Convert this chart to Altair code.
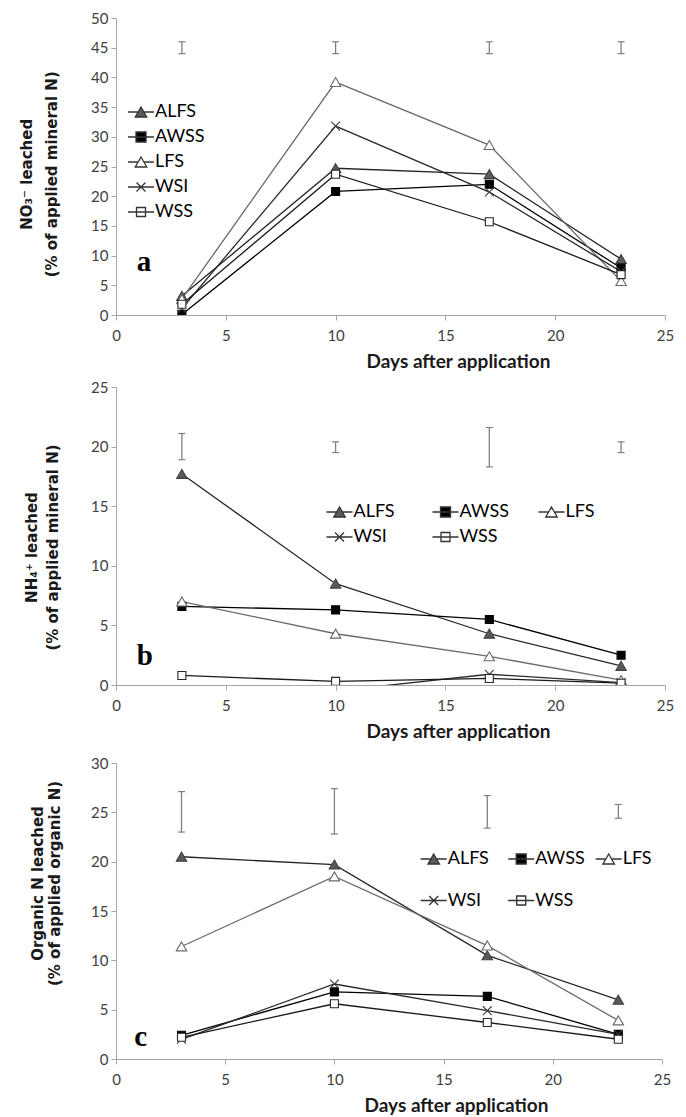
import altair as alt
import pandas as pd

DAYS = [3, 10, 17, 23]
SERIES = ["ALFS", "AWSS", "LFS", "WSI", "WSS"]

# Panel a: NO3- leached (% of applied mineral N)
NO3_ALFS = [3.2, 24.7, 23.7, 9.4]
NO3_AWSS = [0.1, 20.8, 22.0, 7.9]
NO3_LFS = [2.7, 39.2, 28.6, 5.7]
NO3_WSI = [1.1, 31.8, 20.7, 7.3]
NO3_WSS = [1.8, 23.7, 15.7, 6.8]
NO3_ERR_LOW = [44.0, 44.0, 44.0, 44.0]
NO3_ERR_HIGH = [46.0, 46.0, 46.0, 46.0]

# Panel b: NH4+ leached (% of applied mineral N)
NH4_ALFS = [17.7, 8.5, 4.3, 1.6]
NH4_AWSS = [6.6, 6.3, 5.5, 2.5]
NH4_LFS = [7.0, 4.3, 2.4, 0.4]
NH4_WSI = [-0.5, -0.5, 0.9, 0.2]
NH4_WSS = [0.8, 0.3, 0.55, 0.15]
NH4_ERR_LOW = [18.9, 19.5, 18.3, 19.5]
NH4_ERR_HIGH = [21.1, 20.4, 21.6, 20.4]

# Panel c: Organic N leached (% of applied organic N)
ORG_ALFS = [20.5, 19.7, 10.5, 6.0]
ORG_AWSS = [2.4, 6.8, 6.35, 2.5]
ORG_LFS = [11.4, 18.5, 11.5, 3.9]
ORG_WSI = [2.0, 7.6, 4.9, 2.5]
ORG_WSS = [2.2, 5.6, 3.7, 2.0]
ORG_ERR_LOW = [23.0, 22.8, 23.4, 24.4]
ORG_ERR_HIGH = [27.1, 27.4, 26.7, 25.8]

# styles
LINE_COLORS = ["#262626", "#000000", "#6a6a6a", "#2b2b2b", "#1a1a1a"]
MARKER_FILLS = ["#5a5a5a", "#000000", "#ffffff", "#ffffff", "#ffffff"]
MARKER_STROKES = ["#404040", "#000000", "#6a6a6a", "#404040", "#262626"]
MARKER_PATHS = [
    "M0,-1.15L1.3,1.1L-1.3,1.1Z",
    "M-1,-1H1V1H-1Z",
    "M0,-1.15L1.3,1.1L-1.3,1.1Z",
    "M-1.1,-1.1L1.1,1.1M-1.1,1.1L1.1,-1.1",
    "M-1,-1H1V1H-1Z",
]
LEGEND_PATHS = [
    "M-2.6,0H-0.575M0.575,0H2.6M0,-1L1.15,1L-1.15,1Z",
    "M-2.6,0H2.6M-1,-1H1V1H-1Z",
    "M-2.6,0H-0.575M0.575,0H2.6M0,-1L1.15,1L-1.15,1Z",
    "M-2.6,0H2.6M-0.9,-0.9L0.9,0.9M-0.9,0.9L0.9,-0.9",
    "M-2.6,0H2.6M-0.9,-0.9H0.9V0.9H-0.9Z",
]
LEGEND_FILLS = ["#5a5a5a", "#000000", "#ffffff", "#ffffff", "#ffffff"]
AXIS_GRAY = "#a6a6a6"
ERR_GRAY = "#808080"


def long_df(lists):
    rows = []
    for name, vals in zip(SERIES, lists):
        for d, v in zip(DAYS, vals):
            rows.append({"series": name, "day": d, "value": v})
    return pd.DataFrame(rows)


def err_df(lo, hi):
    return pd.DataFrame({"day": DAYS, "lo": lo, "hi": hi})


def panel(lists, lo, hi, ymax, ytitle, ytx, yty, ylh, xtx, letter, lx, ly,
          leg_x, leg_y, leg_cols, leg_rowpad, leg_colpad, width, height, top_gap=0):
    xscale = alt.Scale(domain=[0, 25], nice=False, zero=True)
    if top_gap:
        yscale = alt.Scale(domain=[0, ymax], nice=False, zero=True,
                           range=[height, top_gap])
    else:
        yscale = alt.Scale(domain=[0, ymax], nice=False, zero=True)
    xaxis = alt.Axis(
        values=[0, 5, 10, 15, 20, 25], tickCount=20, grid=False, domainColor=AXIS_GRAY,
        tickColor=AXIS_GRAY, tickSize=5, labelFont="Lato", labelFontSize=15,
        labelColor="#404040", labelPadding=8, labelFlush=False, labelOverlap=False,
        title="Days after application", titleFont="Lato", titleFontSize=19,
        titleFontWeight="bold", titleColor="#1a1a1a", titleX=xtx, titleY=46.5,
        titleBaseline="middle", titleAlign="center",
    )
    yaxis = alt.Axis(
        values=list(range(0, ymax + 1, 5)), tickCount=20, grid=False,
        domainColor=AXIS_GRAY, tickColor=AXIS_GRAY, tickSize=5, labelFont="Lato",
        labelFontSize=15, labelColor="#404040", labelPadding=3, labelOverlap=False,
        title=ytitle, titleFont="DejaVu Sans", titleFontSize=15,
        titleFontWeight="bold", titleColor="#1a1a1a", titleAngle=270,
        titleAlign="center", titleBaseline="middle", titleX=ytx,
        titleY=yty + top_gap, titleLineHeight=ylh,
    )

    def X(field="day"):
        return alt.X(f"{field}:Q", scale=xscale, axis=xaxis)

    def Y(field="value"):
        return alt.Y(f"{field}:Q", scale=yscale, axis=yaxis)

    data = long_df(lists)
    base = alt.Chart(data)
    edf = alt.Chart(err_df(lo, hi))

    err_rule = edf.mark_rule(color=ERR_GRAY, strokeWidth=1.3).encode(
        x=X(), y=Y("lo"), y2="hi:Q")
    cap_lo = edf.mark_tick(orient="horizontal", size=7, thickness=1.2,
                           color=ERR_GRAY, opacity=1).encode(x=X(), y=Y("lo"))
    cap_hi = edf.mark_tick(orient="horizontal", size=7, thickness=1.2,
                           color=ERR_GRAY, opacity=1).encode(x=X(), y=Y("hi"))

    lines = base.mark_line(strokeWidth=1.3, clip=True).encode(
        x=X(), y=Y(),
        color=alt.Color("series:N", scale=alt.Scale(domain=SERIES, range=LINE_COLORS),
                        legend=None),
    )
    points = base.mark_point(filled=True, opacity=1, size=64, strokeWidth=1.1,
                             clip=True).encode(
        x=X(), y=Y(),
        shape=alt.Shape("series:N", scale=alt.Scale(domain=SERIES, range=MARKER_PATHS),
                        legend=None),
        fill=alt.Fill("series:N", scale=alt.Scale(domain=SERIES, range=MARKER_FILLS),
                      legend=None),
        stroke=alt.Stroke("series:N", scale=alt.Scale(domain=SERIES, range=MARKER_STROKES),
                          legend=None),
    )
    legend = alt.Legend(
        title=None, orient="none", legendX=leg_x, legendY=leg_y + top_gap,
        columns=leg_cols, direction="horizontal" if leg_cols > 1 else "vertical",
        labelFont="Lato", labelFontSize=18, labelColor="#000000", labelOffset=5,
        symbolSize=100, symbolStrokeWidth=1.3, rowPadding=leg_rowpad,
        columnPadding=leg_colpad, gridAlign="all", padding=0,
    )
    leg = base.transform_filter("false").mark_point(
        filled=True, opacity=1, size=100, strokeWidth=1.3, stroke="#333333"
    ).encode(
        x=X(), y=Y(),
        shape=alt.Shape("series:N", scale=alt.Scale(domain=SERIES, range=LEGEND_PATHS),
                        legend=legend),
        color=alt.Color("series:N", scale=alt.Scale(domain=SERIES, range=LEGEND_FILLS),
                        legend=legend),
    )
    txt = alt.Chart(pd.DataFrame({"t": [letter]})).mark_text(
        font="Liberation Serif", fontSize=29, fontWeight="bold", align="left",
        baseline="alphabetic", color="#000000",
    ).encode(x=alt.datum(lx), y=alt.datum(ly), text="t:N")

    return alt.layer(err_rule, cap_lo, cap_hi, lines, points, leg, txt).resolve_scale(
        color="independent", shape="independent"
    ).properties(width=width, height=height)


pa = panel([NO3_ALFS, NO3_AWSS, NO3_LFS, NO3_WSI, NO3_WSS], NO3_ERR_LOW, NO3_ERR_HIGH,
           50, ["NO\u2083\u207b leached", "(% of applied mineral N)"], -90, 155.8, 25,
           342, "a", 0.95, 7.4, 16, 85, 1, 7, 10, 549, 297)
pb = panel([NH4_ALFS, NH4_AWSS, NH4_LFS, NH4_WSI, NH4_WSS], NH4_ERR_LOW, NH4_ERR_HIGH,
           25, ["NH\u2084\u207a leached", "(% of applied mineral N)"], -85, 160, 21,
           342, "b", 0.95, 1.7, 214.5, 116, 3, 7, 26, 549, 298)
pc = panel([ORG_ALFS, ORG_AWSS, ORG_LFS, ORG_WSI, ORG_WSS], ORG_ERR_LOW, ORG_ERR_HIGH,
           30, ["Organic N leached", "(% of applied organic  N)"], -78.5, 120, 17,
           340, "c", 0.83, 1.3, 308.7, 87, 3, 23.5, 7.5, 546, 302, top_gap=6)

chart = alt.vconcat(pa, pb, pc, spacing=72, bounds="flush").properties(
    padding={"left": 19, "top": 11, "right": 5, "bottom": 2}
).configure_view(stroke=None)

chart.save("out.html", embed_options={"renderer": "svg", "actions": False})
